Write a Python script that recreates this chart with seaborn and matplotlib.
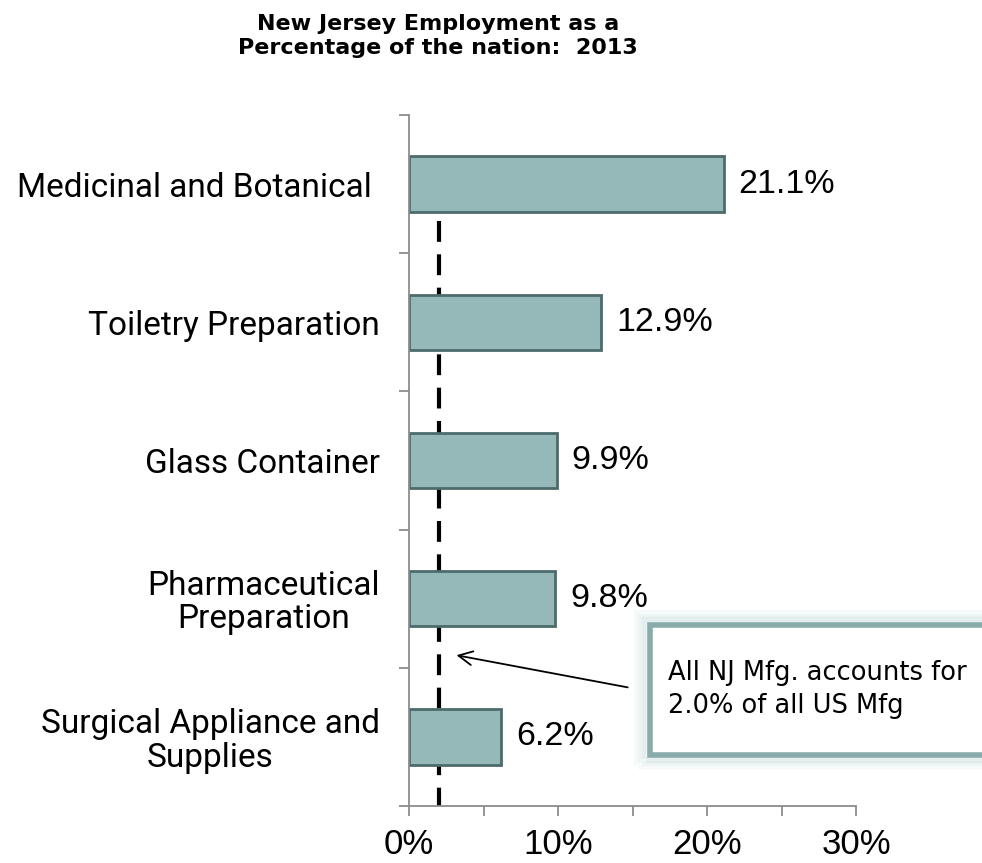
"""NJ employment share of the nation by manufacturing industry, 2013."""

import matplotlib.pyplot as plt
import pandas as pd
import seaborn as sns
from matplotlib.patches import Rectangle

INDUSTRIES = [
    "Medicinal and Botanical ",
    "Toiletry Preparation",
    "Glass Container",
    "Pharmaceutical\nPreparation",
    "Surgical Appliance and\nSupplies",
]
SHARE_PCT = [21.1, 12.9, 9.9, 9.8, 6.2]
NJ_ALL_MFG_PCT = 2.0
X_TICKS = [0, 10, 20, 30]

BAR_COLOR = "#95b8b8"
EDGE_COLOR = "#4d6b6b"
BOX_COLOR = "#8aabab"


def main() -> None:
    sns.set_theme(style="white")
    plt.rcParams["font.family"] = ["Liberation Sans", "DejaVu Sans"]

    df = pd.DataFrame({"industry": INDUSTRIES, "share": SHARE_PCT})

    fig = plt.figure(figsize=(9.82, 8.63), dpi=100)
    ax = fig.add_axes([0.4165, 0.066, 0.4555, 0.8007])

    # national reference line, drawn behind the bars
    ax.vlines(NJ_ALL_MFG_PCT, 0.27, 4.5, colors="black", linewidth=3,
              linestyles=(0, (5, 3)), zorder=1)

    sns.barplot(data=df, x="share", y="industry", color=BAR_COLOR, width=0.4,
                edgecolor=EDGE_COLOR, linewidth=2, saturation=1, ax=ax, zorder=2)

    for i, value in enumerate(df["share"]):
        ax.text(value + 1.0, i, f"{value:.1f}%", va="center", ha="left", fontsize=24.5,
                color="black")

    ax.set_xlim(0, 30)
    ax.set_ylim(4.5, -0.5)
    ax.set_xticks(X_TICKS)
    ax.set_xticklabels([f"{t}%" for t in X_TICKS], fontsize=25, color="black")
    ax.set_xticks(range(0, 31, 5), minor=True)
    ax.set_yticks([i - 0.5 for i in range(len(INDUSTRIES) + 1)], minor=True)
    ax.set_yticks(range(len(INDUSTRIES)))
    ax.set_yticklabels(df["industry"], fontsize=24, family="Roboto",
                       linespacing=1.05, multialignment="center", color="black")
    ax.set_xlabel("")
    ax.set_ylabel("")

    for side in ["top", "right"]:
        ax.spines[side].set_visible(False)
    for side in ["left", "bottom"]:
        ax.spines[side].set_color("#8c8c8c")
        ax.spines[side].set_linewidth(1.3)
    ax.tick_params(axis="y", which="major", length=0, pad=21)
    ax.tick_params(axis="y", which="minor", left=True, length=7, color="#8c8c8c", width=1.3)
    ax.tick_params(axis="x", which="both", bottom=True, length=7, color="#8c8c8c", width=1.3)
    ax.tick_params(axis="x", which="major", pad=9)

    fig.text(0.446, 0.958, "New Jersey Employment as a\nPercentage of the nation:  2013",
             ha="center", va="center", fontsize=16, fontweight="bold", linespacing=1.25,
             color="black", family="DejaVu Sans")

    # callout box with soft glow
    box_x, box_y, box_w, box_h = 0.662, 0.125, 0.40, 0.151
    for grow, alpha in [(0.012, 0.10), (0.008, 0.15), (0.004, 0.25)]:
        fig.patches.append(Rectangle((box_x - grow, box_y - grow), box_w + 2 * grow, box_h + 2 * grow,
                                     transform=fig.transFigure, facecolor="none",
                                     edgecolor="#b8d4d4", linewidth=6, alpha=alpha))
    fig.patches.append(Rectangle((box_x, box_y), box_w, box_h, transform=fig.transFigure,
                                 facecolor="white", edgecolor=BOX_COLOR, linewidth=4))
    fig.text(box_x + 0.018, box_y + box_h / 2, "All NJ Mfg. accounts for\n2.0% of all US Mfg",
             ha="left", va="center", fontsize=18.5, linespacing=1.35, color="black",
             family="DejaVu Sans")

    ax.annotate("", xy=(0.100, 0.219), xycoords="axes fraction",
                xytext=(0.495, 0.171), textcoords="axes fraction",
                arrowprops=dict(arrowstyle="->", color="black", lw=1.3, mutation_scale=25))

    fig.savefig("out.png", dpi=100)
    plt.close(fig)


if __name__ == "__main__":
    main()
